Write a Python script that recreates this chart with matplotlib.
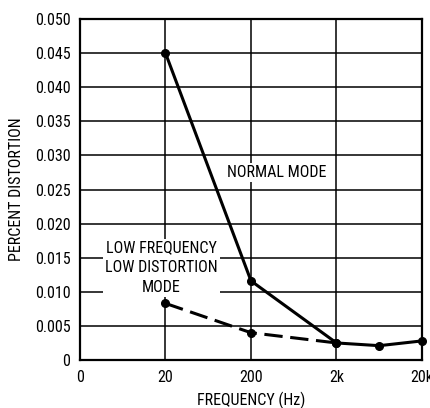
import matplotlib
matplotlib.use("Agg")
import matplotlib.pyplot as plt

plt.rcParams['font.family'] = ['Roboto Condensed', 'DejaVu Sans']

# tick positions are evenly spaced decades
x_ticks = [0, 1, 2, 3, 4]
x_tick_labels = ['0', '20', '200', '2k', '20k']
y_ticks = [0, 0.005, 0.010, 0.015, 0.020, 0.025, 0.030, 0.035, 0.040, 0.045, 0.050]
y_tick_labels = ['0', '0.005', '0.010', '0.015', '0.020', '0.025', '0.030',
                 '0.035', '0.040', '0.045', '0.050']

normal_x = [1, 2, 3, 3.5, 4]
normal_y = [0.045, 0.0116, 0.0025, 0.0021, 0.0028]

lowdist_x = [1, 2, 3]
lowdist_y = [0.0083, 0.0040, 0.0025]

fig = plt.figure(figsize=(4.31, 4.08), dpi=100)
ax = fig.add_axes([80 / 431, 48 / 408, 342 / 431, 341 / 408])

ax.plot(normal_x, normal_y, color='black', lw=2.2, marker='o', ms=5.5, zorder=3,
        clip_on=False)
ax.plot(lowdist_x, lowdist_y, color='black', lw=2.2, marker='o', ms=5.5,
        dashes=(6, 2.5), zorder=3, clip_on=False)

ax.set_xlim(0, 4)
ax.set_ylim(0, 0.05)
ax.set_xticks(x_ticks)
ax.set_xticklabels(x_tick_labels)
ax.set_yticks(y_ticks)
ax.set_yticklabels(y_tick_labels)
ax.tick_params(length=0, labelsize=11.5, pad=7)
ax.grid(True, color='black', lw=1.1)
for s in ax.spines.values():
    s.set_linewidth(1.6)

ax.set_xlabel('FREQUENCY (Hz)', fontsize=11.5, labelpad=5)
ax.set_ylabel('PERCENT DISTORTION', fontsize=11.5, labelpad=8)

box = dict(facecolor='white', edgecolor='none', pad=1.5)
ax.text(2.3, 0.0275, 'NORMAL MODE', fontsize=11.5, ha='center', va='center',
        bbox=box, zorder=2)
ax.text(0.95, 0.0135, 'LOW FREQUENCY\nLOW DISTORTION\nMODE', fontsize=11.5,
        ha='center', va='center', linespacing=1.4, bbox=box, zorder=2)

fig.savefig('out.png', dpi=100)
